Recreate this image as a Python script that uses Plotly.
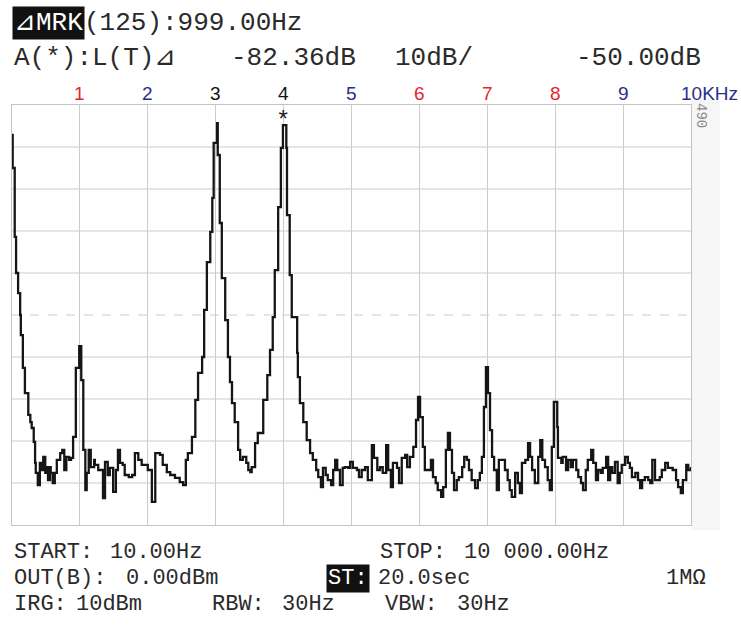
import plotly.graph_objects as go

# ---- data: spectrum trace (frequency in kHz, level in dB) ----
freq_khz = [
    0.00, 0.01, 0.04, 0.06, 0.09, 0.12, 0.13, 0.16, 0.19, 0.24,
    0.27, 0.29, 0.32, 0.34, 0.35, 0.38, 0.41, 0.43, 0.46, 0.49,
    0.50, 0.53, 0.56, 0.57, 0.60, 0.63, 0.66, 0.71, 0.74, 0.77,
    0.80, 0.84, 0.87, 0.90, 0.94, 0.99, 1.02, 1.05, 1.08, 1.10,
    1.13, 1.16, 1.21, 1.22, 1.27, 1.34, 1.37, 1.41, 1.44, 1.49,
    1.53, 1.56, 1.59, 1.63, 1.66, 1.72, 1.77, 1.81, 1.86, 1.91,
    2.00, 2.06, 2.11, 2.18, 2.22, 2.28, 2.33, 2.40, 2.47, 2.52,
    2.56, 2.59, 2.65, 2.70, 2.74, 2.80, 2.83, 2.87, 2.92, 2.95,
    2.97, 3.02, 3.03, 3.06, 3.09, 3.14, 3.18, 3.21, 3.24, 3.28,
    3.33, 3.36, 3.40, 3.45, 3.48, 3.51, 3.53, 3.58, 3.62, 3.70,
    3.76, 3.80, 3.84, 3.87, 3.92, 3.96, 3.99, 4.04, 4.05, 4.09,
    4.12, 4.20, 4.21, 4.24, 4.29, 4.34, 4.39, 4.43, 4.48, 4.51,
    4.55, 4.58, 4.62, 4.65, 4.70, 4.73, 4.76, 4.79, 4.83, 4.87,
    4.90, 4.95, 4.98, 5.02, 5.08, 5.11, 5.15, 5.20, 5.24, 5.30,
    5.33, 5.38, 5.42, 5.46, 5.51, 5.54, 5.58, 5.61, 5.67, 5.70,
    5.74, 5.79, 5.82, 5.86, 5.91, 5.95, 5.98, 6.01, 6.05, 6.08,
    6.13, 6.17, 6.20, 6.24, 6.27, 6.32, 6.35, 6.39, 6.42, 6.45,
    6.48, 6.51, 6.55, 6.58, 6.63, 6.66, 6.70, 6.73, 6.77, 6.82,
    6.86, 6.89, 6.92, 6.95, 6.98, 7.01, 7.04, 7.07, 7.10, 7.14,
    7.17, 7.22, 7.26, 7.30, 7.33, 7.36, 7.41, 7.45, 7.48, 7.51,
    7.56, 7.60, 7.63, 7.66, 7.70, 7.75, 7.78, 7.81, 7.85, 7.89,
    7.92, 7.95, 7.98, 8.03, 8.04, 8.09, 8.11, 8.16, 8.19, 8.23,
    8.26, 8.31, 8.34, 8.38, 8.41, 8.45, 8.48, 8.53, 8.56, 8.60,
    8.63, 8.67, 8.70, 8.75, 8.78, 8.81, 8.84, 8.88, 8.92, 8.95,
    8.98, 9.03, 9.07, 9.10, 9.13, 9.18, 9.22, 9.25, 9.28, 9.32,
    9.37, 9.40, 9.43, 9.47, 9.51, 9.54, 9.57, 9.62, 9.66, 9.71,
    9.73, 9.78, 9.81, 9.85, 9.88, 9.93, 9.96, 10.00,
]
level_db = [
    -57.1, -65.0, -81.4, -90.0, -94.8, -100.0, -104.8, -112.6, -118.6, -123.8,
    -125.5, -126.9, -130.2, -135.2, -137.6, -140.5, -135.2, -136.9, -133.8, -137.6,
    -136.2, -139.3, -136.2, -137.6, -140.0, -137.6, -134.5, -132.9, -132.1, -136.9,
    -133.8, -134.5, -134.0, -129.0, -112.6, -107.4, -115.5, -132.1, -141.7, -137.6,
    -132.1, -136.2, -134.5, -135.7, -136.9, -143.6, -135.0, -138.1, -136.4, -142.1,
    -136.9, -132.1, -135.2, -135.7, -138.1, -138.6, -138.1, -132.9, -134.5, -135.7,
    -136.9, -144.5, -132.9, -133.3, -135.7, -137.4, -138.1, -138.8, -139.8, -140.5,
    -134.5, -132.9, -129.0, -120.2, -113.8, -110.0, -98.8, -87.4, -80.2, -72.1,
    -59.0, -54.3, -61.9, -78.1, -91.2, -101.2, -110.0, -116.0, -121.0, -125.5,
    -132.1, -134.5, -133.8, -135.2, -136.9, -137.4, -136.2, -130.5, -128.1, -120.2,
    -114.3, -108.3, -100.5, -89.3, -74.3, -60.2, -54.8, -60.2, -76.2, -90.5,
    -100.5, -109.0, -114.8, -121.0, -125.5, -129.8, -132.9, -134.5, -136.9, -138.6,
    -141.0, -136.4, -138.1, -139.3, -140.5, -136.9, -134.5, -136.9, -140.5, -136.4,
    -136.2, -136.4, -135.0, -136.4, -136.9, -138.6, -136.9, -136.2, -139.3, -131.0,
    -134.0, -136.9, -136.2, -137.6, -131.0, -136.9, -141.0, -135.2, -136.4, -140.0,
    -134.0, -133.3, -136.2, -133.8, -131.4, -125.0, -119.5, -124.3, -131.4, -136.9,
    -136.9, -134.5, -138.6, -140.0, -141.7, -143.3, -141.0, -132.1, -128.1, -132.1,
    -137.6, -141.7, -139.3, -138.6, -136.2, -133.8, -134.5, -136.9, -139.3, -141.2,
    -139.3, -137.6, -133.8, -121.9, -112.4, -118.6, -127.4, -133.8, -136.9, -141.7,
    -134.5, -134.5, -136.9, -139.3, -141.7, -143.3, -137.6, -140.0, -142.4, -135.2,
    -134.5, -130.5, -133.8, -136.9, -140.0, -133.8, -129.8, -134.5, -136.2, -139.3,
    -141.7, -131.4, -120.7, -126.7, -134.0, -135.2, -133.8, -136.9, -134.5, -136.2,
    -134.5, -136.9, -138.6, -140.0, -141.7, -136.9, -134.5, -132.1, -135.2, -139.3,
    -136.9, -137.6, -136.4, -133.8, -139.3, -136.2, -137.6, -135.0, -140.0, -137.6,
    -135.7, -133.8, -135.2, -136.4, -138.6, -137.6, -139.3, -141.2, -139.3, -138.6,
    -139.3, -140.0, -134.5, -139.3, -139.3, -138.6, -136.9, -135.2, -136.4, -136.4,
    -136.9, -139.3, -141.0, -142.4, -139.3, -135.7, -136.9, -136.2,
]
assert len(freq_khz) == len(level_db)

# axis scale: reference level -50 dB, 10 dB/div, 0..10 kHz
ref_level = -50
db_per_div = 10
n_div = 10
y_min = ref_level - db_per_div * n_div
grid_db = [ref_level - db_per_div * k for k in range(1, n_div)]

freq_labels = ["1", "2", "3", "4", "5", "6", "7", "8", "9", "10KHz"]
label_colors = ["#e3262b", "#2b2e8a", "#111111", "#111111", "#2b2e8a",
                "#e3262b", "#e3262b", "#e3262b", "#2b2e8a", "#2b2e8a"]

marker_freq = 3.99
marker_level = -54.8

W, H = 741, 632
ML, MR, MT, MB = 12, 50, 105, 107
PW, PH = W - ML - MR, H - MT - MB


def px(x):
    return (x - ML) / PW


def py(y):
    return (H - MB - y) / PH


MONO = "Liberation Mono, DejaVu Sans Mono, monospace"
SANS = "Liberation Sans, Arial, sans-serif"
TXT = "#2a2a2a"
FS = 26     # header text
FB = 22     # footer text

fig = go.Figure()
fig.add_trace(go.Scatter(
    x=freq_khz, y=level_db, mode="lines",
    line=dict(color="#151515", width=2.3, shape="hv"),
    hoverinfo="skip", showlegend=False,
))

shapes = []
# faint strip at right edge of the screen
shapes.append(dict(type="rect", xref="paper", yref="paper", x0=1.0, x1=px(720),
                   y0=py(530), y1=py(100), fillcolor="#f6f6f6", line_width=0,
                   layer="below"))
for g in grid_db:
    dashed = (g == ref_level - db_per_div * n_div / 2)
    shapes.append(dict(type="line", xref="paper", yref="y", x0=0, x1=1, y0=g, y1=g,
                       line=dict(color="#cbcbcb", width=1,
                                 dash="dash" if dashed else "solid"),
                       layer="below"))
fig.update_layout(shapes=shapes)

ann = []


def text(s, x, y, size=FS, color=TXT, anchor="left", family=MONO, **kw):
    ann.append(dict(text=s, xref="paper", yref="paper", x=px(x), y=py(y),
                    xanchor=anchor, yanchor="middle", showarrow=False,
                    font=dict(family=family, size=size, color=color), **kw))


# header
text("⊿MRK", 12, 23, color="#ffffff", bgcolor="#111111", borderpad=1)
text("(125):999.00Hz", 82, 23)
text("A(*):L(T)⊿", 12, 58)
text("-82.36dB", 229, 58)
text("10dB/", 393, 58)
text("-50.00dB", 703, 58, anchor="right")

# frequency labels above the grid
for i, (lab, col) in enumerate(zip(freq_labels, label_colors)):
    if i < 9:
        ann.append(dict(text=lab, xref="x", yref="paper", x=i + 1, y=py(93),
                        xanchor="center", yanchor="middle", showarrow=False,
                        font=dict(family=SANS, size=19, color=col)))
    else:
        text(lab, 740, 93, size=19, color=col, anchor="right", family=SANS)

# side note
ann.append(dict(text="490", xref="paper", yref="paper", x=px(701), y=py(115),
                xanchor="center", yanchor="middle", showarrow=False, textangle=90,
                font=dict(family=MONO, size=14, color="#8a8a8a")))

# marker asterisk
ann.append(dict(text="*", xref="x", yref="y", x=marker_freq, y=marker_level,
                xanchor="center", yanchor="middle", yshift=4, showarrow=False,
                font=dict(family=MONO, size=24, color="#222222")))

# footer (each field placed where the instrument prints it)
R1, R2, R3 = 552, 578, 604
text("START:", 12, R1, size=FB)
text("10.00Hz", 108, R1, size=FB)
text("STOP:", 378, R1, size=FB)
text("10 000.00Hz", 462, R1, size=FB)
text("OUT(B):", 12, R2, size=FB)
text("0.00dBm", 124, R2, size=FB)
text("ST:", 326, R2, size=FB, color="#ffffff", bgcolor="#111111", borderpad=1)
text("20.0sec", 376, R2, size=FB)
text("1MΩ", 664, R2, size=FB)
text("IRG:", 12, R3, size=FB)
text("10dBm", 74, R3, size=FB)
text("RBW:", 210, R3, size=FB)
text("30Hz", 280, R3, size=FB)
text("VBW:", 383, R3, size=FB)
text("30Hz", 455, R3, size=FB)

fig.update_layout(
    annotations=ann,
    width=W, height=H,
    margin=dict(l=ML, r=MR, t=MT, b=MB),
    paper_bgcolor="#ffffff", plot_bgcolor="#ffffff",
    xaxis=dict(range=[0, 10], dtick=1, showgrid=True, gridcolor="#cbcbcb",
               gridwidth=1, zeroline=False, showticklabels=False, ticks="",
               showline=True, mirror=True, linecolor="#c4c4c4", linewidth=1,
               fixedrange=True),
    yaxis=dict(range=[y_min, ref_level], showgrid=False, zeroline=False,
               showticklabels=False, ticks="", showline=True, mirror=True,
               linecolor="#c4c4c4", linewidth=1, fixedrange=True),
    showlegend=False,
)

fig.write_html("out.html")
